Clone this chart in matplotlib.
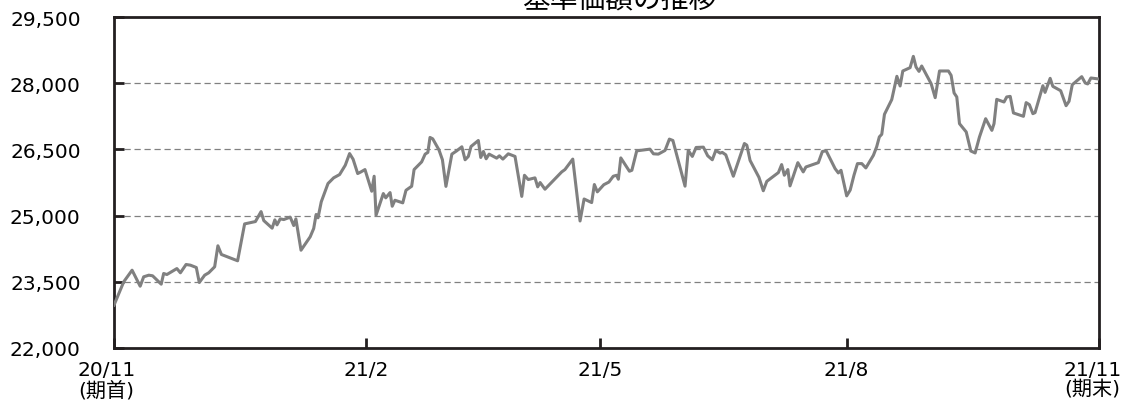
import numpy as np
import matplotlib
matplotlib.use("Agg")
from matplotlib import pyplot as plt
import matplotlib.transforms as mtransforms

plt.rcParams['font.family'] = ['DejaVu Sans', 'Noto Sans CJK JP']

# days since start of period (20/11) and NAV values
days = [0, 3.6, 6.7, 9.7, 11.0, 12.9, 14.3, 17.5, 18.4, 19.6, 23.3, 24.6, 26.7, 28.3,
        30.5, 31.6, 33.6, 35.1, 37.3, 38.5, 39.8, 42.7, 45.8, 48.4, 52.4, 54.5, 55.5,
        58.6, 59.6, 60.4, 61.6, 62.9, 65.3, 66.6, 67.4, 69.3, 72.7, 74.0, 74.9, 75.6,
        76.8, 79.3, 81.4, 83.6, 85.7, 87.3, 88.6, 90.3, 91.5, 93.0, 95.5, 96.4, 97.1,
        99.8, 100.7, 102.3, 103.1, 104.1, 107.0, 108.2, 110.3, 111.2, 114.0, 115.3,
        116.3, 117.1, 118.1, 120.4, 121.7, 123.0, 125.2, 127.0, 128.9, 130.1, 131.3,
        132.3, 135.0, 135.9, 136.9, 137.9, 139.0, 141.8, 142.8, 144.1, 146.1, 148.6,
        151.1, 152.1, 153.5, 156.0, 157.0, 157.9, 159.7, 165.9, 167.1, 170.0, 172.7,
        174.2, 177.0, 178.0, 179.1, 181.5, 183.4, 185.0, 186.3, 186.9, 187.8, 191.0,
        191.9, 193.7, 198.6, 199.9, 201.7, 204.2, 205.8, 207.1, 211.6, 212.8, 214.3,
        215.7, 218.4, 220.0, 221.7, 223.0, 224.6, 225.4, 226.7, 229.5, 233.6, 234.5,
        235.7, 239.0, 240.6, 241.9, 246.2, 247.4, 248.4, 249.7, 250.5, 253.4, 255.4,
        256.4, 261.0, 262.5, 263.9, 267.2, 268.4, 269.4, 271.5, 272.8, 274.2, 275.5,
        277.1, 278.6, 281.4, 282.6, 283.6, 284.5, 285.5, 288.2, 290.1, 291.3, 292.3,
        295.0, 296.2, 297.2, 298.3, 299.3, 302.8, 304.3, 305.9, 309.2, 310.2, 311.3,
        312.3, 313.3, 315.8, 317.5, 319.1, 320.7, 323.0, 325.3, 326.1, 327.1, 329.8,
        330.8, 332.1, 333.3, 337.0, 338.0, 339.2, 340.5, 341.3, 344.2, 345.0, 346.9,
        347.9, 350.8, 352.8, 353.9, 355.1, 358.6, 359.9, 360.8, 362.0, 365.0]
nav = [22970, 23500, 23763, 23400, 23613, 23650, 23636, 23446, 23688, 23665, 23800,
       23704, 23892, 23877, 23824, 23484, 23650, 23704, 23840, 24316, 24119, 24051,
       23976, 24812, 24865, 25091, 24887, 24715, 24903, 24790, 24926, 24910, 24965,
       24775, 24926, 24216, 24520, 24708, 25025, 24950, 25312, 25727, 25856, 25930,
       26141, 26406, 26277, 25953, 25990, 26043, 25552, 25892, 25008, 25500, 25402,
       25522, 25212, 25348, 25289, 25574, 25665, 26043, 26217, 26393, 26432, 26771,
       26740, 26491, 26265, 25662, 26393, 26468, 26559, 26265, 26341, 26566, 26702,
       26317, 26453, 26287, 26393, 26302, 26355, 26280, 26400, 26341, 25435, 25914,
       25817, 25855, 25651, 25749, 25598, 25990, 26043, 26280, 24878, 25376, 25295,
       25704, 25538, 25700, 25760, 25892, 25914, 25824, 26307, 26005, 26027, 26467,
       26506, 26400, 26393, 26477, 26733, 26702, 25667, 26477, 26341, 26544, 26551,
       26355, 26265, 26477, 26416, 26432, 26377, 25892, 26633, 26596, 26250, 25866,
       25563, 25776, 25975, 26156, 25914, 26043, 25673, 26200, 25990, 26102, 26200,
       26453, 26468, 26065, 25967, 26027, 25447, 25578, 25914, 26178, 26178, 26080,
       26366, 26556, 26783, 26842, 27295, 27628, 28156, 27937, 28277, 28352, 28608,
       28367, 28268, 28390, 27989, 27672, 28277, 28277, 28178, 27779, 27688, 27083,
       26895, 26464, 26419, 26781, 27196, 26931, 27083, 27634, 27574, 27688, 27702,
       27326, 27250, 27560, 27514, 27310, 27333, 27943, 27792, 28110, 27928, 27830,
       27490, 27590, 27966, 28148, 28005, 27983, 28118, 28095]

x_ticks = [0, 93.3, 180.1, 271.5, 365]
x_labels = ['20/11\n(期首)', '21/2', '21/5', '21/8', '21/11\n(期末)']
y_ticks = [22000, 23500, 25000, 26500, 28000, 29500]

fig = plt.figure(figsize=(11.25, 4.02), dpi=100)
ax = fig.add_axes([114/1125, 53/402, 985/1125, 331/402])

ax.plot(days, nav, color='#808080', linewidth=2.2, solid_joinstyle='round', zorder=3)

ax.set_xlim(0, 365)
ax.set_ylim(22000, 29500)
ax.set_yticks(y_ticks)
ax.set_yticklabels(['{:,}'.format(v) for v in y_ticks])
ax.set_xticks(x_ticks)
ax.set_xticklabels(x_labels)

for v in y_ticks[1:-1]:
    ax.axhline(v, color='#808080', linestyle=(0, (5, 3)), linewidth=0.9, zorder=1)

for s in ax.spines.values():
    s.set_linewidth(2)
    s.set_color('#231f20')

ax.tick_params(axis='y', direction='in', length=7, width=2, pad=24, labelsize=14.5, colors='#231f20')
ax.tick_params(axis='x', direction='in', length=7, width=2, pad=9, labelsize=14.5, colors='#231f20')
ax.tick_params(axis='x', labelcolor='black')
ax.tick_params(axis='y', labelcolor='black')

lbls = ax.get_xticklabels()
lbls[0].set_multialignment('left')
lbls[0].set_linespacing(1.02)
lbls[0].set_transform(lbls[0].get_transform() + mtransforms.ScaledTranslation(-7/100, 0, fig.dpi_scale_trans))
lbls[-1].set_multialignment('left')
lbls[-1].set_linespacing(1.02)
lbls[-1].set_transform(lbls[-1].get_transform() + mtransforms.ScaledTranslation(-6/100, 0, fig.dpi_scale_trans))

fig.text(619/1125, 1 - 8/402, '基準価額の推移', ha='center', va='baseline', fontsize=20, color='black')

fig.savefig('out.png', dpi=100)
